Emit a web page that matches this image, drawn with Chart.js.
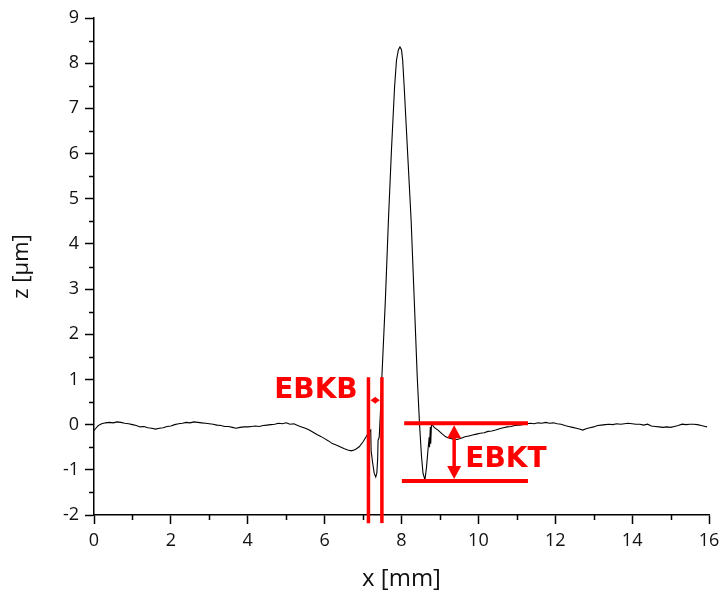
<!DOCTYPE html>
<html>
<head>
<meta charset="utf-8">
<script src="https://cdn.jsdelivr.net/npm/chart.js@4/dist/chart.umd.min.js"></script>
<style>
  html, body { margin: 0; padding: 0; background: #fff; }
  #wrap { width: 721px; height: 598px; }
</style>
</head>
<body>
<div id="wrap"><canvas id="canvas_perfil"></canvas></div>
<script>
// perfil medido: posição x [mm] e altura z [µm]
const xs = [
  0.00, 0.05, 0.10, 0.15, 0.20, 0.30, 0.40, 0.50, 0.60, 0.70, 0.80, 0.90,
  1.00, 1.10, 1.20, 1.30, 1.40, 1.50, 1.60, 1.70, 1.80, 1.90,
  2.00, 2.10, 2.20, 2.30, 2.40, 2.50, 2.60, 2.70, 2.80, 2.90,
  3.00, 3.10, 3.20, 3.30, 3.40, 3.50, 3.60, 3.70, 3.80, 3.90,
  4.00, 4.10, 4.20, 4.30, 4.40, 4.50, 4.60, 4.70, 4.80, 4.90,
  5.00, 5.10, 5.20, 5.30, 5.40, 5.50, 5.60, 5.70, 5.80, 5.90,
  6.00, 6.10, 6.20, 6.30, 6.40, 6.50, 6.60, 6.70, 6.80, 6.90,
  7.00, 7.08, 7.14, 7.20, 7.21, 7.25, 7.29, 7.33, 7.36, 7.38, 7.39, 7.42, 7.46, 7.49,
  7.58, 7.66, 7.74, 7.82, 7.87, 7.92, 7.96, 8.00, 8.03, 8.07, 8.16, 8.25, 8.33, 8.41,
  8.47, 8.52, 8.56, 8.61, 8.65, 8.69, 8.72, 8.73, 8.75, 8.76, 8.78, 8.85, 8.95,
  9.05, 9.15, 9.25, 9.35, 9.45, 9.55, 9.65, 9.75, 9.85, 9.95,
  10.05, 10.15, 10.25, 10.35, 10.45, 10.55, 10.65, 10.75, 10.85, 10.95,
  11.05, 11.15, 11.25, 11.35, 11.45, 11.55, 11.65, 11.75, 11.85, 11.95,
  12.05, 12.15, 12.25, 12.35, 12.45, 12.55, 12.65, 12.72, 12.80, 12.90,
  13.00, 13.10, 13.20, 13.30, 13.40, 13.50, 13.60, 13.70, 13.80, 13.90,
  14.00, 14.10, 14.20, 14.30, 14.40, 14.50, 14.60, 14.70, 14.80, 14.90,
  15.00, 15.10, 15.20, 15.30, 15.40, 15.50, 15.60, 15.70, 15.80, 15.90, 15.95
];
const zs = [
  -0.13, -0.08, -0.03, 0.00, 0.02, 0.04, 0.05, 0.04, 0.06, 0.05, 0.03, 0.02,
  0.00, -0.02, -0.05, -0.04, -0.07, -0.08, -0.10, -0.08, -0.07, -0.04,
  -0.03, 0.00, 0.02, 0.03, 0.05, 0.04, 0.06, 0.05, 0.04, 0.03,
  0.02, 0.01, -0.01, -0.02, -0.04, -0.04, -0.06, -0.08, -0.06, -0.05,
  -0.05, -0.04, -0.03, -0.04, -0.02, -0.01, 0.00, 0.01, 0.03, 0.02,
  0.04, 0.01, 0.02, -0.02, -0.05, -0.08, -0.12, -0.17, -0.22, -0.26,
  -0.31, -0.36, -0.42, -0.45, -0.49, -0.53, -0.56, -0.58, -0.55, -0.49,
  -0.38, -0.27, -0.18, -0.12, -0.58, -0.85, -1.08, -1.16, -1.06, -0.75, -0.35, -0.28, 0.40, 1.06,
  2.75, 4.53, 6.10, 7.48, 8.07, 8.30, 8.36, 8.30, 8.07, 7.48, 6.00, 4.53, 2.80, 1.05,
  0.00, -0.70, -1.08, -1.22, -0.95, -0.55, -0.28, -0.50, -0.05, -0.42, 0.02, -0.06, -0.12,
  -0.20, -0.27, -0.30, -0.32, -0.33, -0.30, -0.27, -0.25, -0.23, -0.21,
  -0.19, -0.18, -0.15, -0.14, -0.12, -0.09, -0.07, -0.05, -0.04, -0.02,
  -0.01, 0.00, 0.02, 0.03, 0.02, 0.04, 0.03, 0.05, 0.03, 0.04,
  0.02, 0.01, -0.02, -0.04, -0.06, -0.08, -0.10, -0.12, -0.09, -0.07,
  -0.05, -0.02, -0.01, 0.00, 0.01, 0.00, 0.02, 0.01, 0.02, 0.03,
  0.02, 0.01, 0.01, -0.01, 0.01, -0.03, -0.04, -0.05, -0.06, -0.05,
  -0.06, -0.04, -0.02, 0.01, 0.00, 0.01, 0.01, 0.00, -0.02, -0.04, -0.05
];

// marcações EBKB / EBKT em unidades dos eixos
const ebkbX = [7.14, 7.49];
const ebkbY = [1.05, -2.18];
const ebkbSeta = 0.54;
const ebktX = [[8.07, 11.29], [8.01, 11.29]];
const ebktY = [0.03, -1.25];
const ebktSeta = 9.37;

const pontos = xs.map((x, i) => ({ x: x, y: zs[i] }));
const fonte = "'Open Sans', 'DejaVu Sans', sans-serif";

function seta(ctx, x, y, dx, dy, tam, larg) {
  // ponta triangular com vértice em (x, y) apontando na direção (dx, dy)
  ctx.beginPath();
  ctx.moveTo(x, y);
  ctx.lineTo(x - dx * tam - dy * larg, y - dy * tam + dx * larg);
  ctx.lineTo(x - dx * tam + dy * larg, y - dy * tam - dx * larg);
  ctx.closePath();
  ctx.fill();
}

const tracosMenores = {
  id: "tracosMenores",
  afterDraw(chart) {
    const ctx = chart.ctx;
    const sx = chart.scales.x;
    const sy = chart.scales.y;
    ctx.save();
    ctx.strokeStyle = "#000";
    ctx.lineWidth = 1.5;
    ctx.beginPath();
    for (let v = 1; v < 16; v += 2) {
      let px = Math.round(sx.getPixelForValue(v)) + 0.5;
      ctx.moveTo(px, sy.bottom);
      ctx.lineTo(px, sy.bottom + 5);
    }
    for (let v = -1.5; v < 9; v += 1) {
      let py = Math.round(sy.getPixelForValue(v)) + 0.5;
      ctx.moveTo(sx.left, py);
      ctx.lineTo(sx.left - 5, py);
    }
    ctx.stroke();
    ctx.restore();
  },
};

const marcacoes = {
  id: "marcacoes",
  afterDatasetsDraw(chart) {
    const ctx = chart.ctx;
    const sx = chart.scales.x;
    const sy = chart.scales.y;
    ctx.save();
    ctx.strokeStyle = "#ff0000";
    ctx.fillStyle = "#ff0000";
    ctx.lineCap = "butt";

    // EBKB: duas verticais e seta dupla entre elas
    ctx.lineWidth = 3.5;
    ebkbX.forEach((v) => {
      let px = sx.getPixelForValue(v);
      ctx.beginPath();
      ctx.moveTo(px, sy.getPixelForValue(ebkbY[0]));
      ctx.lineTo(px, sy.getPixelForValue(ebkbY[1]));
      ctx.stroke();
    });
    let a = sx.getPixelForValue(ebkbX[0]) + 2;
    let b = sx.getPixelForValue(ebkbX[1]) - 2;
    let ys = sy.getPixelForValue(ebkbSeta);
    ctx.lineWidth = 2;
    ctx.beginPath();
    ctx.moveTo(a + 3, ys);
    ctx.lineTo(b - 3, ys);
    ctx.stroke();
    seta(ctx, a, ys, -1, 0, 5, 3.5);
    seta(ctx, b, ys, 1, 0, 5, 3.5);

    // EBKT: duas horizontais e seta vertical
    ctx.lineWidth = 4;
    ebktY.forEach((v, i) => {
      let py = sy.getPixelForValue(v);
      ctx.beginPath();
      ctx.moveTo(sx.getPixelForValue(ebktX[i][0]), py);
      ctx.lineTo(sx.getPixelForValue(ebktX[i][1]), py);
      ctx.stroke();
    });
    let xsA = sx.getPixelForValue(ebktSeta);
    let t = sy.getPixelForValue(ebktY[0]) + 2;
    let f = sy.getPixelForValue(ebktY[1]) - 2;
    ctx.lineWidth = 3.5;
    ctx.beginPath();
    ctx.moveTo(xsA, t + 8);
    ctx.lineTo(xsA, f - 8);
    ctx.stroke();
    seta(ctx, xsA, t, 0, -1, 13, 7);
    seta(ctx, xsA, f, 0, 1, 13, 7);

    // rótulos
    ctx.font = "bold 28px 'DejaVu Sans', sans-serif";
    ctx.textBaseline = "alphabetic";
    ctx.textAlign = "right";
    ctx.fillText("EBKB", sx.getPixelForValue(6.86), sy.getPixelForValue(0.58));
    ctx.textAlign = "left";
    ctx.fillText("EBKT", sx.getPixelForValue(9.66), sy.getPixelForValue(-0.93));
    ctx.restore();
  },
};

var ctx = document.getElementById("canvas_perfil").getContext("2d");
window.perfil = new Chart(ctx, {
  type: "scatter",
  data: {
    datasets: [
      {
        data: pontos,
        showLine: true,
        borderColor: "#000",
        borderWidth: 1.1,
        pointRadius: 0,
        tension: 0,
      },
    ],
  },
  options: {
    responsive: true,
    maintainAspectRatio: false,
    animation: false,
    layout: { padding: { left: 0, right: 12, top: 18, bottom: 0 } },
    plugins: { legend: { display: false }, tooltip: { enabled: false } },
    scales: {
      x: {
        type: "linear",
        min: 0,
        max: 16,
        afterFit: (s) => {
          s.height = 83;
          s.paddingLeft = 0;
          s.paddingRight = 0;
        },
        ticks: {
          stepSize: 2,
          color: "#111",
          padding: 6,
          font: { family: fonte, size: 18 },
        },
        grid: {
          drawOnChartArea: false,
          drawTicks: true,
          tickLength: 9,
          tickColor: "#000",
          tickWidth: 1.5,
        },
        border: { display: true, color: "#000", width: 1.5 },
        title: {
          display: true,
          text: "x [mm]",
          color: "#111",
          font: { family: fonte, size: 24 },
          padding: { top: 0, bottom: 4 },
        },
      },
      y: {
        type: "linear",
        min: -2,
        max: 9,
        afterFit: (s) => {
          s.width = 94;
          s.paddingTop = 0;
          s.paddingBottom = 0;
        },
        ticks: {
          stepSize: 1,
          color: "#111",
          padding: 6,
          font: { family: fonte, size: 18 },
        },
        grid: {
          drawOnChartArea: false,
          drawTicks: true,
          tickLength: 9,
          tickColor: "#000",
          tickWidth: 1.5,
        },
        border: { display: true, color: "#000", width: 1.5 },
        title: {
          display: true,
          text: "z [µm]",
          color: "#111",
          font: { family: fonte, size: 22 },
          padding: { top: 9, bottom: 0 },
        },
      },
    },
  },
  plugins: [tracosMenores, marcacoes],
});
</script>
</body>
</html>
